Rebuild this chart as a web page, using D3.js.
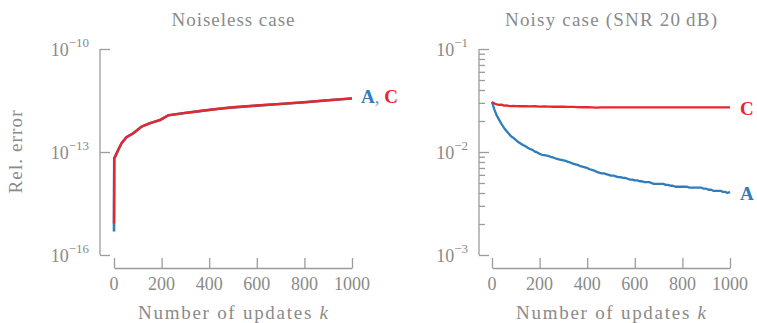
<!DOCTYPE html>
<html>
<head>
<meta charset="utf-8">
<script src="https://cdn.jsdelivr.net/npm/d3@7"></script>
<style>
  html, body { margin: 0; padding: 0; background: #fff; }
  svg { display: block; }
</style>
</head>
<body>
<svg id="chart" width="757" height="323" font-family="'Liberation Serif', 'DejaVu Serif', 'Times New Roman', serif"></svg>
<script>
// ---------------- Data ----------------
// Noiseless case
const kNoiseless = [0, 1, 4, 18, 32, 53, 81, 116, 151, 193, 228, 291, 361, 432, 502, 600, 700, 800, 900, 1000];
const noiselessA = [4.8e-16, 6.6e-14, 7.1e-14, 1.15e-13, 1.8e-13, 2.7e-13, 3.5e-13, 5.5e-13, 6.9e-13, 8.5e-13, 1.17e-12, 1.35e-12, 1.55e-12, 1.78e-12, 2.0e-12, 2.24e-12, 2.5e-12, 2.8e-12, 3.2e-12, 3.6e-12];
const noiselessC = [8.3e-16, 6.7e-14, 7.2e-14, 1.16e-13, 1.82e-13, 2.72e-13, 3.52e-13, 5.5e-13, 6.9e-13, 8.5e-13, 1.17e-12, 1.36e-12, 1.56e-12, 1.79e-12, 2.02e-12, 2.26e-12, 2.52e-12, 2.82e-12, 3.22e-12, 3.65e-12];

// Noisy case (SNR 20 dB)
const kNoisyA = [0,10,20,30,40,50,60,70,80,90,100,110,120,130,140,150,160,170,180,190,200,210,220,230,240,250,260,270,280,290,300,310,320,330,340,350,360,370,380,390,400,410,420,430,440,450,460,470,480,490,500,510,520,530,540,550,560,570,580,590,600,610,620,630,640,650,660,670,680,690,700,710,720,730,740,750,760,770,780,790,800,810,820,830,840,850,860,870,880,890,900,910,920,930,940,950,960,970,980,990,1000];
const noisyA = [0.0306,0.0258,0.0226,0.0205,0.0187,0.0172,0.0161,0.0151,0.0142,0.0137,0.0131,0.0125,0.0121,0.0117,0.0114,0.0110,0.0107,0.0105,0.0101,0.0099,0.0096,0.0094,0.0093,0.0092,0.0091,0.0089,0.0088,0.0086,0.0085,0.0084,0.0083,0.0082,0.0080,0.0079,0.0077,0.0076,0.0075,0.0073,0.0072,0.0071,0.0070,0.0068,0.0067,0.0066,0.0064,0.0063,0.0062,0.0062,0.0061,0.0060,0.0059,0.0059,0.0058,0.0057,0.0057,0.0056,0.0056,0.0055,0.0054,0.0054,0.0053,0.0053,0.0052,0.0052,0.0051,0.0051,0.0051,0.0050,0.0049,0.0049,0.0049,0.0049,0.0049,0.0048,0.0048,0.0047,0.0047,0.0046,0.0046,0.0046,0.0046,0.0046,0.0046,0.0045,0.0045,0.0045,0.0045,0.0045,0.0045,0.0044,0.0044,0.0043,0.0043,0.0042,0.0042,0.0042,0.0042,0.0041,0.0041,0.0040,0.0041];
const kNoisyC = [0,10,20,30,40,50,60,70,80,90,100,120,140,160,180,200,220,240,260,280,300,320,340,360,380,400,420,440,460,480,500,550,600,650,700,750,800,850,900,950,1000];
const noisyC = [0.0306,0.0296,0.0290,0.0286,0.0289,0.0282,0.0284,0.0281,0.0279,0.0281,0.0279,0.0278,0.0279,0.0277,0.0278,0.0276,0.0277,0.0276,0.0275,0.0276,0.0275,0.0274,0.0274,0.0273,0.0272,0.0272,0.0271,0.0270,0.0271,0.0271,0.0271,0.0271,0.0271,0.0271,0.0271,0.0271,0.0271,0.0271,0.0271,0.0271,0.0271];

// Ticks
const xTicks = [0, 200, 400, 600, 800, 1000];
const yTicksNoiseless = [1e-16, 1e-13, 1e-10];
const yTickExpNoiseless = ["−16", "−13", "−10"];
const yTicksNoisy = [1e-3, 1e-2, 1e-1];
const yTickExpNoisy = ["−3", "−2", "−1"];
const titles = ["Noiseless case", "Noisy case (SNR 20\u2009dB)"];
const xLabel = "Number of updates ";
const yLabel = "Rel. error";

// ---------------- Drawing ----------------
const blue = "#2f7dbd", red = "#e8262c", grey = "#8a8a8a", axisGrey = "#9c9c9c";
const svg = d3.select("#chart");

function panel(opts) {
  const g = svg.append("g");
  const x = d3.scaleLinear().domain([0, 1000]).range(opts.xr);
  const y = d3.scaleLog().domain(opts.yd).range([255, 49]);

  // y axis
  const yAxis = d3.axisRight(y).tickValues(opts.yMinor.concat(opts.yTicks)).tickFormat("").tickSize(0);
  const ya = g.append("g").attr("transform", `translate(${opts.yAxisX},0)`).call(yAxis);
  ya.select(".domain").remove();
  ya.append("line").attr("x1", 0).attr("x2", 0).attr("y1", y(opts.yd[0])).attr("y2", y(opts.yd[1]))
    .attr("stroke", axisGrey).attr("stroke-width", 1.3);
  ya.selectAll(".tick line").remove();
  ya.selectAll(".tick").each(function (d) {
    const major = opts.yTicks.some(t => Math.abs(t - d) / t < 1e-9);
    d3.select(this).append("line").attr("x1", 0).attr("x2", major ? 10 : 6)
      .attr("stroke", axisGrey).attr("stroke-width", 1.3);
  });
  // y tick labels
  opts.yTicks.forEach((t, i) => {
    const tx = g.append("text").attr("x", opts.yAxisX - 11).attr("y", y(t) + 7)
      .attr("text-anchor", "end").attr("fill", grey).attr("font-size", 18);
    tx.append("tspan").text("10");
    tx.append("tspan").attr("dy", -9).attr("font-size", 13).text(opts.yExp[i]);
  });

  // x axis
  const xa = g.append("g").attr("transform", `translate(0,268)`)
    .call(d3.axisTop(x).tickValues(xTicks).tickSize(10).tickSizeOuter(0).tickFormat(""));
  xa.select(".domain").attr("stroke", axisGrey).attr("stroke-width", 1.3);
  xa.selectAll(".tick line").attr("stroke", axisGrey).attr("stroke-width", 1.3);
  xTicks.forEach(t => {
    g.append("text").attr("x", x(t)).attr("y", 290).attr("text-anchor", "middle")
      .attr("fill", grey).attr("font-size", 18).text(t);
  });

  // titles and labels
  const cx = (opts.xr[0] + opts.xr[1]) / 2;
  g.append("text").attr("x", cx).attr("y", 26).attr("text-anchor", "middle")
    .attr("fill", grey).attr("font-size", 19).attr("textLength", opts.titleW).attr("lengthAdjust", "spacing")
    .text(opts.title);
  const xl = g.append("text").attr("x", cx).attr("y", 319).attr("text-anchor", "middle")
    .attr("fill", grey).attr("font-size", 19).attr("textLength", 190).attr("lengthAdjust", "spacing");
  xl.append("tspan").text(xLabel);
  xl.append("tspan").attr("font-style", "italic").text("k");

  // lines
  const line = d3.line().x(d => x(d[0])).y(d => y(d[1]));
  opts.series.forEach(s => {
    g.append("path").datum(d3.zip(s.k, s.v)).attr("d", line)
      .attr("fill", "none").attr("stroke", s.color).attr("stroke-width", s.w)
      .attr("stroke-linejoin", "round").attr("stroke-linecap", "butt");
  });
  return { x, y, g };
}

panel({
  xr: [114, 352], yd: [1e-16, 1e-10], yAxisX: 100, yTicks: yTicksNoiseless, yMinor: [],
  yExp: yTickExpNoiseless, title: titles[0], titleW: 123,
  series: [
    { k: kNoiseless, v: noiselessA, color: blue, w: 2.6 },
    { k: kNoiseless, v: noiselessC, color: red, w: 2.4 }
  ]
});

const minorNoisy = [];
[1e-3, 1e-2].forEach(b => { for (let m = 2; m <= 9; m++) minorNoisy.push(b * m); });
panel({
  xr: [492, 730], yd: [1e-3, 1e-1], yAxisX: 479, yTicks: yTicksNoisy, yMinor: minorNoisy,
  yExp: yTickExpNoisy, title: titles[1], titleW: 212,
  series: [
    { k: kNoisyA, v: noisyA, color: blue, w: 2.3 },
    { k: kNoisyC, v: noisyC, color: red, w: 2.3 }
  ]
});

// y label
svg.append("text").attr("transform", "translate(22,152) rotate(-90)").attr("text-anchor", "middle")
  .attr("fill", grey).attr("font-size", 19).attr("textLength", 83).attr("lengthAdjust", "spacing").text(yLabel);

// series labels
const lab = svg.append("text").attr("x", 361).attr("y", 103).attr("font-size", 19).attr("font-weight", "bold");
lab.append("tspan").attr("fill", blue).text("A");
lab.append("tspan").attr("fill", grey).attr("font-weight", "normal").text(", ");
lab.append("tspan").attr("fill", red).text("C");

svg.append("text").attr("x", 740).attr("y", 115).attr("font-size", 19).attr("font-weight", "bold")
  .attr("fill", red).text("C");
svg.append("text").attr("x", 740).attr("y", 200).attr("font-size", 19).attr("font-weight", "bold")
  .attr("fill", blue).text("A");
</script>
</body>
</html>
